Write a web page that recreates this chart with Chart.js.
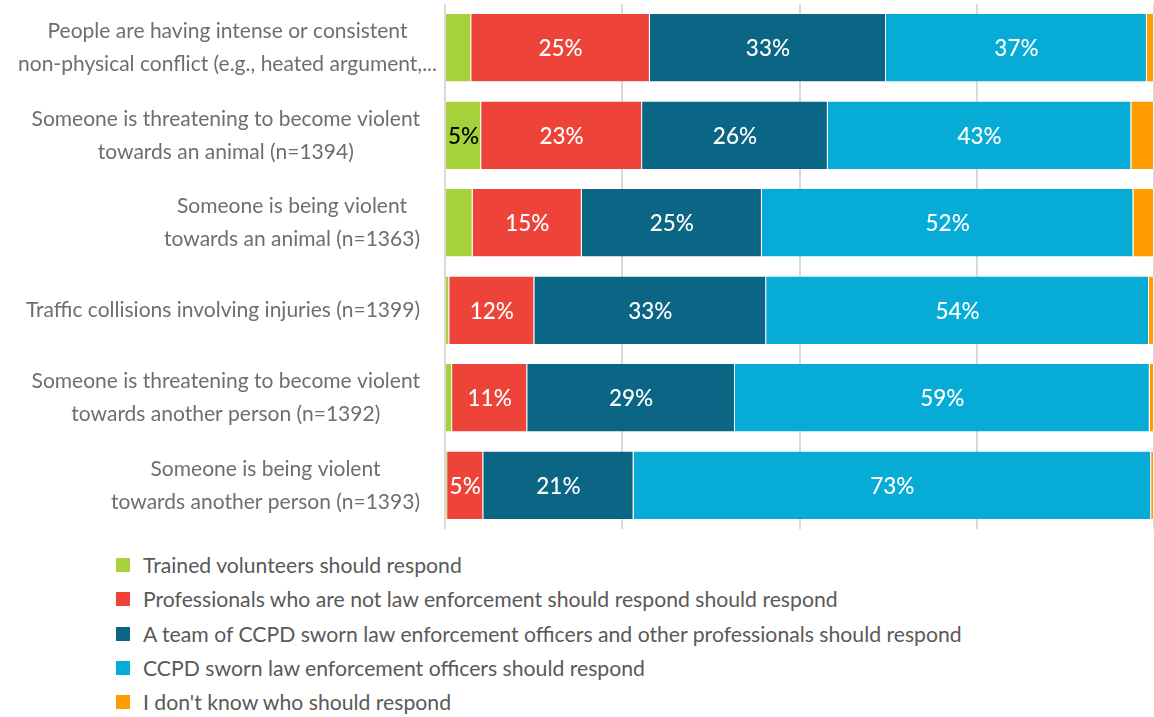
<!DOCTYPE html>
<html>
<head>
<meta charset="utf-8">
<script src="https://cdn.jsdelivr.net/npm/chart.js@4/dist/chart.umd.min.js"></script>
<style>
  html, body { margin: 0; padding: 0; background: #fff; }
  #wrap { position: relative; width: 1154px; height: 717px; overflow: hidden; }
  #box { position: absolute; left: 0; top: 0; width: 1154px; height: 530px; }
  #legend { position: absolute; left: 116px; top: 548px; font-family: Lato, "DejaVu Sans", sans-serif; font-size: 21.2px; color: #595959; }
  .li { height: 34.3px; display: flex; align-items: center; white-space: nowrap; }
  .sw { width: 14px; height: 14px; margin-right: 13px; flex: none; }
</style>
</head>
<body>
<div id="wrap">
  <div id="box"><canvas id="c"></canvas></div>
  <div id="legend"></div>
</div>
<script>
const categories = [
  ["People are having intense or consistent", "non-physical conflict (e.g., heated argument,..."],
  ["Someone is threatening to become violent", "towards an animal (n=1394)"],
  ["Someone is being violent", "towards an animal (n=1363)"],
  ["Traffic collisions involving injuries (n=1399)"],
  ["Someone is threatening to become violent", "towards another person (n=1392)"],
  ["Someone is being violent", "towards another person (n=1393)"]
];
const seriesNames = [
  "Trained volunteers should respond",
  "Professionals who are not law enforcement should respond should respond",
  "A team of CCPD sworn law enforcement officers and other professionals should respond",
  "CCPD sworn law enforcement officers should respond",
  "I don't know who should respond"
];
const volunteers   = [3.7, 5.1, 3.9, 0.6, 1.0, 0.3];
const professionals = [25.2, 22.7, 15.4, 12.0, 10.6, 5.1];
const teamCCPD     = [33.3, 26.2, 25.4, 32.7, 29.3, 21.2];
const ccpdOfficers = [36.8, 42.8, 52.4, 54.0, 58.5, 73.0];
const dontKnow     = [1.0, 3.2, 2.9, 0.7, 0.6, 0.4];

const colors = ["#A5D13B", "#EE4339", "#0B6584", "#06ACD6", "#FF9D00"];
const labelColors = ["#000000", "#FFFFFF", "#FFFFFF", "#FFFFFF", "#FFFFFF"];
const seriesValues = [volunteers, professionals, teamCCPD, ccpdOfficers, dontKnow];

const FONT = "Lato, 'DejaVu Sans', sans-serif";

const datasets = seriesNames.map((name, i) => ({
  label: name,
  data: seriesValues[i],
  backgroundColor: colors[i],
  borderColor: "rgba(255,255,255,0.7)",
  borderWidth: { left: 0, right: 1, top: 0, bottom: 0 },
  borderSkipped: false,
  barPercentage: 0.77,
  categoryPercentage: 1.0
}));

const yLabelPlugin = {
  id: 'yLabels',
  afterDraw(chart) {
    const ctx = chart.ctx;
    const y = chart.scales.y;
    ctx.save();
    ctx.font = "21px " + FONT;
    ctx.fillStyle = "#6E6E6E";
    ctx.textBaseline = "middle";
    ctx.textAlign = "center";
    const lh = 33;
    categories.forEach((lines, i) => {
      const cy = y.getPixelForValue(i);
      const widths = lines.map(l => ctx.measureText(l).width);
      const w = Math.max(...widths);
      const right = (i === 0) ? 437 : 420;
      const cx = right - w / 2;
      lines.forEach((l, k) => {
        const ly = cy + (k - (lines.length - 1) / 2) * lh;
        ctx.fillText(l, cx, ly);
      });
    });
    ctx.restore();
  }
};

const valueLabelPlugin = {
  id: 'valueLabels',
  afterDatasetsDraw(chart) {
    const ctx = chart.ctx;
    ctx.save();
    ctx.font = "500 22.5px " + FONT;
    ctx.textAlign = "center";
    ctx.textBaseline = "middle";
    chart.data.datasets.forEach((ds, di) => {
      const meta = chart.getDatasetMeta(di);
      meta.data.forEach((el, i) => {
        const v = ds.data[i];
        if (v < 4.5) return;
        const p = el.getProps(['x', 'y', 'base'], true);
        ctx.fillStyle = labelColors[di];
        ctx.fillText(Math.round(v) + "%", (p.x + p.base) / 2, p.y + 1);
      });
    });
    ctx.restore();
  }
};

const chart = new Chart(document.getElementById('c'), {
  type: 'bar',
  data: { labels: categories.map(c => c.join(' ')), datasets },
  options: {
    indexAxis: 'y',
    responsive: true,
    maintainAspectRatio: false,
    animation: false,
    layout: { padding: { top: 4, bottom: 1, left: 0, right: 0 } },
    plugins: { legend: { display: false }, tooltip: { enabled: false } },
    scales: {
      x: {
        stacked: true, min: 0, max: 100,
        ticks: { display: false, stepSize: 25 },
        grid: { color: "#D9D9D9", lineWidth: 2, drawTicks: false },
        border: { display: false }
      },
      y: {
        stacked: true,
        ticks: { display: false },
        grid: { display: false },
        border: { display: false },
        afterFit(scale) { scale.width = 445; }
      }
    }
  },
  plugins: [yLabelPlugin, valueLabelPlugin]
});

const legend = document.getElementById('legend');
chart.data.datasets.forEach(ds => {
  const d = document.createElement('div');
  d.className = 'li';
  const s = document.createElement('span');
  s.className = 'sw';
  s.style.background = ds.backgroundColor;
  const t = document.createElement('span');
  t.textContent = ds.label;
  d.appendChild(s); d.appendChild(t);
  legend.appendChild(d);
});
</script>
</body>
</html>
